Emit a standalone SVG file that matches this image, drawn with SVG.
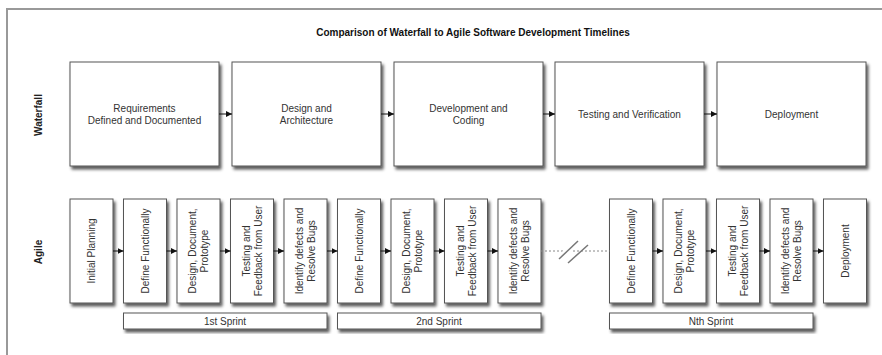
<svg xmlns="http://www.w3.org/2000/svg" width="882" height="355" viewBox="0 0 882 355">
<defs>
<filter id="sh" x="-20%" y="-20%" width="150%" height="150%">
<feDropShadow dx="2" dy="3" stdDeviation="1.5" flood-color="#000" flood-opacity="0.65"/>
</filter>
<marker id="ah" markerWidth="6" markerHeight="6" refX="6" refY="3" orient="auto" markerUnits="userSpaceOnUse">
<path d="M0,0 L6,3 L0,6 Z" fill="#111"/>
</marker>
<style>
.box{fill:#fff;stroke:#555;stroke-width:1;filter:url(#sh)}
.t{font-family:"Liberation Sans",Arial,sans-serif;font-size:10px;fill:#333;text-anchor:middle}
.lbl{font-family:"Liberation Sans",Arial,sans-serif;font-size:10px;font-weight:bold;fill:#222;text-anchor:middle}
.title{font-family:"Liberation Sans",Arial,sans-serif;font-size:10px;font-weight:bold;fill:#111;text-anchor:middle}
.arr{stroke:#111;stroke-width:1;marker-end:url(#ah)}
</style>
</defs>
<rect width="882" height="355" fill="#fff"/>
<path d="M7,355 V9 H882" fill="none" stroke="#999" stroke-width="2"/>
<text class="title" x="473" y="36">Comparison of Waterfall to Agile Software Development Timelines</text>
<text class="lbl" transform="translate(42,115) rotate(-90)">Waterfall</text>
<text class="lbl" transform="translate(42,252) rotate(-90)">Agile</text>

<g id="w1"><rect class="box" x="70" y="62" width="149" height="104"/><text class="t" x="144.5" y="111.5">Requirements</text><text class="t" x="144.5" y="123.5">Defined and Documented</text></g>
<g id="w2"><rect class="box" x="232" y="62" width="149" height="104"/><text class="t" x="306.5" y="111.5">Design and</text><text class="t" x="306.5" y="123.5">Architecture</text></g>
<g id="w3"><rect class="box" x="394" y="62" width="149" height="104"/><text class="t" x="468.5" y="111.5">Development and</text><text class="t" x="468.5" y="123.5">Coding</text></g>
<g id="w4"><rect class="box" x="555" y="62" width="149" height="104"/><text class="t" x="629.5" y="117.5">Testing and Verification</text></g>
<g id="w5"><rect class="box" x="717" y="62" width="149" height="104"/><text class="t" x="791.5" y="117.5">Deployment</text></g>

<g id="a1"><rect class="box" x="70" y="199" width="43" height="104"/><text class="t" transform="translate(91.5,251) rotate(-90)" y="3.5">Initial Planning</text></g>
<g id="a2"><rect class="box" x="123.5" y="199" width="43" height="104"/><text class="t" transform="translate(145,251) rotate(-90)" y="3.5">Define Functionally</text></g>
<g id="a3"><rect class="box" x="177" y="199" width="43" height="104"/><text class="t" transform="translate(198.5,251) rotate(-90)"><tspan x="0" y="-2.5">Design, Document,</tspan><tspan x="0" y="9.5">Prototype</tspan></text></g>
<g id="a4"><rect class="box" x="230.5" y="199" width="43" height="104"/><text class="t" transform="translate(252,251) rotate(-90)"><tspan x="0" y="-2.5">Testing and</tspan><tspan x="0" y="9.5">Feedback from User</tspan></text></g>
<g id="a5"><rect class="box" x="284" y="199" width="43" height="104"/><text class="t" transform="translate(305.5,251) rotate(-90)"><tspan x="0" y="-2.5">Identify defects and</tspan><tspan x="0" y="9.5">Resolve Bugs</tspan></text></g>
<g id="a6"><rect class="box" x="337.5" y="199" width="43" height="104"/><text class="t" transform="translate(359,251) rotate(-90)" y="3.5">Define Functionally</text></g>
<g id="a7"><rect class="box" x="391" y="199" width="43" height="104"/><text class="t" transform="translate(412.5,251) rotate(-90)"><tspan x="0" y="-2.5">Design, Document,</tspan><tspan x="0" y="9.5">Prototype</tspan></text></g>
<g id="a8"><rect class="box" x="444.5" y="199" width="43" height="104"/><text class="t" transform="translate(466,251) rotate(-90)"><tspan x="0" y="-2.5">Testing and</tspan><tspan x="0" y="9.5">Feedback from User</tspan></text></g>
<g id="a9"><rect class="box" x="498" y="199" width="43" height="104"/><text class="t" transform="translate(519.5,251) rotate(-90)"><tspan x="0" y="-2.5">Identify defects and</tspan><tspan x="0" y="9.5">Resolve Bugs</tspan></text></g>
<g id="a10"><rect class="box" x="609.5" y="199" width="43" height="104"/><text class="t" transform="translate(631,251) rotate(-90)" y="3.5">Define Functionally</text></g>
<g id="a11"><rect class="box" x="663" y="199" width="43" height="104"/><text class="t" transform="translate(684.5,251) rotate(-90)"><tspan x="0" y="-2.5">Design, Document,</tspan><tspan x="0" y="9.5">Prototype</tspan></text></g>
<g id="a12"><rect class="box" x="716.5" y="199" width="43" height="104"/><text class="t" transform="translate(738,251) rotate(-90)"><tspan x="0" y="-2.5">Testing and</tspan><tspan x="0" y="9.5">Feedback from User</tspan></text></g>
<g id="a13"><rect class="box" x="770" y="199" width="43" height="104"/><text class="t" transform="translate(791.5,251) rotate(-90)"><tspan x="0" y="-2.5">Identify defects and</tspan><tspan x="0" y="9.5">Resolve Bugs</tspan></text></g>
<g id="a14"><rect class="box" x="823.5" y="199" width="43" height="104"/><text class="t" transform="translate(845,251) rotate(-90)" y="3.5">Deployment</text></g>

<g id="s1"><rect class="box" x="123.5" y="313" width="203.5" height="16"/><text class="t" x="225" y="324.5">1st Sprint</text></g>
<g id="s2"><rect class="box" x="337.5" y="313" width="203.5" height="16"/><text class="t" x="439" y="324.5">2nd Sprint</text></g>
<g id="s3"><rect class="box" x="609.5" y="313" width="203.5" height="16"/><text class="t" x="711" y="324.5">Nth Sprint</text></g>

<g id="connectors">
<line class="arr" x1="219" y1="114" x2="232" y2="114"/>
<line class="arr" x1="381" y1="114" x2="394" y2="114"/>
<line class="arr" x1="543" y1="114" x2="555" y2="114"/>
<line class="arr" x1="704" y1="114" x2="717" y2="114"/>
<line class="arr" x1="113" y1="251" x2="123.5" y2="251"/>
<line class="arr" x1="166.5" y1="251" x2="177" y2="251"/>
<line class="arr" x1="220" y1="251" x2="230.5" y2="251"/>
<line class="arr" x1="273.5" y1="251" x2="284" y2="251"/>
<line class="arr" x1="327" y1="251" x2="337.5" y2="251"/>
<line class="arr" x1="380.5" y1="251" x2="391" y2="251"/>
<line class="arr" x1="434" y1="251" x2="444.5" y2="251"/>
<line class="arr" x1="487.5" y1="251" x2="498" y2="251"/>
<line x1="541" y1="251" x2="609.5" y2="251" stroke="#888" stroke-width="1" stroke-dasharray="2,2"/>
<line x1="559" y1="259" x2="578" y2="241" stroke="#fff" stroke-width="6"/>
<line x1="559" y1="259" x2="578" y2="241" stroke="#777" stroke-width="1.5"/>
<line x1="568" y1="263" x2="588" y2="245" stroke="#777" stroke-width="1.5"/>
<line class="arr" x1="652.5" y1="251" x2="663" y2="251"/>
<line class="arr" x1="706" y1="251" x2="716.5" y2="251"/>
<line class="arr" x1="759.5" y1="251" x2="770" y2="251"/>
<line class="arr" x1="813" y1="251" x2="823.5" y2="251"/>
</g>
</svg>
